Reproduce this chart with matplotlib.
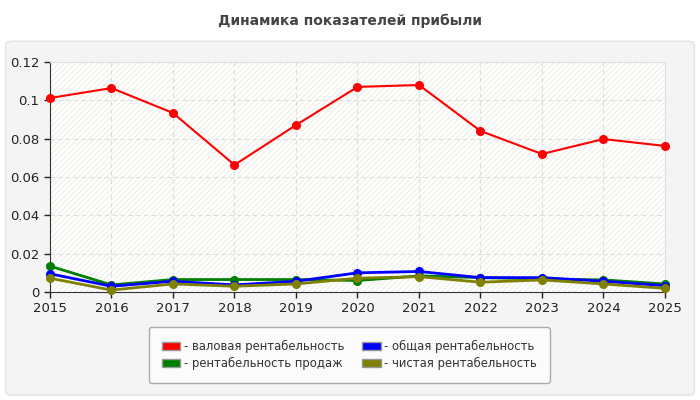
import matplotlib.pyplot as plt
from matplotlib.patches import FancyBboxPatch, Rectangle, Patch

years = [2015, 2016, 2017, 2018, 2019, 2020, 2021, 2022, 2023, 2024, 2025]

gross = [0.1012, 0.1064, 0.0934, 0.0663, 0.0871, 0.1070, 0.1080, 0.0840, 0.0720, 0.0798, 0.0762]
total = [0.0095, 0.0030, 0.0056, 0.0037, 0.0056, 0.0100, 0.0107, 0.0075, 0.0075, 0.0056, 0.0033]
sales = [0.0135, 0.0037, 0.0065, 0.0065, 0.0065, 0.0060, 0.0084, 0.0075, 0.0068, 0.0063, 0.0042]
net = [0.0072, 0.0010, 0.0042, 0.0030, 0.0042, 0.0072, 0.0080, 0.0051, 0.0063, 0.0042, 0.0019]

series = [
    ("- валовая рентабельность", gross, "#ff0000", 1.5),
    ("- рентабельность продаж", sales, "#008000", 2.0),
    ("- общая рентабельность", total, "#0000ff", 2.0),
    ("- чистая рентабельность", net, "#808000", 2.0),
]

yticks = [0, 0.02, 0.04, 0.06, 0.08, 0.1, 0.12]

plt.rcParams['font.family'] = ['DejaVu Sans']
fig = plt.figure(figsize=(7, 4), dpi=100)
fig.patch.set_facecolor("white")

# grey rounded panel behind everything
panel = FancyBboxPatch((0.008, 0.012), 0.984, 0.885, boxstyle="round,pad=0,rounding_size=0.01",
                       transform=fig.transFigure, facecolor="#f4f4f4", edgecolor="#e2e2e2",
                       linewidth=1, zorder=-5)
fig.patches.append(panel)

fig.text(0.5, 0.948, "Динамика показателей прибыли", ha="center", va="center",
         fontsize=10, fontweight="bold", color="#444444")

ax = fig.add_axes([0.0714, 0.27, 0.8786, 0.575])
ax.set_facecolor("#fffffc")
ax.add_patch(Rectangle((0, 0), 1, 1, transform=ax.transAxes, facecolor="none",
                       edgecolor="#f0f0f0", hatch="//////", linewidth=0, zorder=0))

for lbl, vals, col, lw in series:
    ax.plot(years, vals, color=col, linewidth=lw, marker="o", markersize=5.5, zorder=3,
            clip_on=False)

ax.set_xlim(2015, 2025)
ax.set_ylim(0, 0.12)
ax.set_xticks(years)
ax.set_yticks(yticks)
ax.set_yticklabels(["%g" % v for v in yticks])
ax.tick_params(labelsize=9.5, colors="#222222", length=4, width=1)
ax.grid(True, color="#dddddd", linestyle=(0, (4, 3)), linewidth=0.8)
ax.set_axisbelow(True)
for s in ("left", "bottom"):
    ax.spines[s].set_color("#333333")
for s in ("top", "right"):
    ax.spines[s].set_color("#e0e0e0")

handles = [Patch(facecolor=col, edgecolor="#999999", label=lbl) for lbl, vals, col, lw in series]
leg = fig.legend(handles=handles, loc="center", bbox_to_anchor=(0.499, 0.1125), ncol=2,
                 fontsize=8.4, frameon=True, fancybox=True, handlelength=1.6, handleheight=0.7,
                 handletextpad=0.3, columnspacing=1.5, labelspacing=0.3, borderpad=1.1)
leg.get_frame().set_facecolor("#fbfbfb")
leg.get_frame().set_edgecolor("#aaaaaa")
leg.get_frame().set_alpha(1)
for t in leg.get_texts():
    t.set_color("#333333")

fig.savefig("out.png", dpi=100)
